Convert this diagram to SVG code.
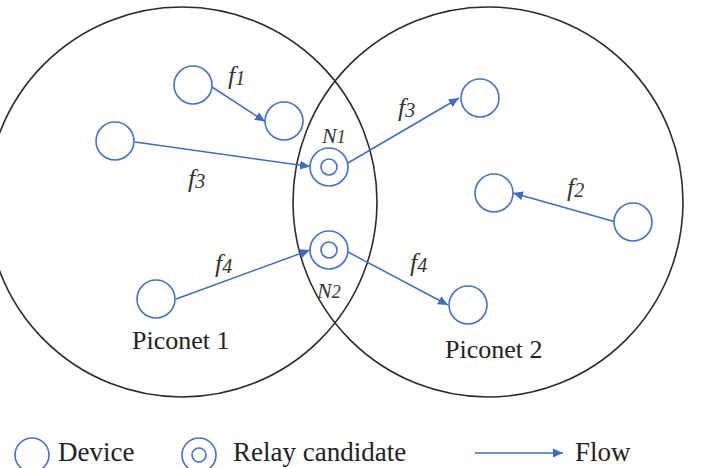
<svg xmlns="http://www.w3.org/2000/svg" width="711" height="468" viewBox="0 0 711 468">
<defs>
<marker id="ah" viewBox="0 0 10 10" refX="10" refY="5" markerWidth="10" markerHeight="10" markerUnits="userSpaceOnUse" orient="auto">
<path d="M0,0.5 L10,5 L0,9.5 Z" fill="#3F6EC0"/>
</marker>
<style>
.net{fill:none;stroke:#2b2b2b;stroke-width:1.6}
.dev{fill:#fff;stroke:#4472C4;stroke-width:1.6}
.flow{fill:none;stroke:#3F6EC0;stroke-width:1.5;marker-end:url(#ah)}
.lbl{fill:#222}
.it{font-style:italic;fill:#333}
</style>
</defs>
<rect width="711" height="468" fill="#fff"/>
<g id="piconets">
<circle id="piconet1" class="net" cx="182" cy="202" r="195"/>
<circle id="piconet2" class="net" cx="488" cy="202" r="195"/>
</g>
<g id="connectors">
<line class="flow" x1="212" y1="87" x2="265" y2="121.5"/>
<line class="flow" x1="135" y1="142" x2="310" y2="166.5"/>
<line class="flow" x1="348" y1="163" x2="459" y2="98"/>
<line class="flow" x1="176" y1="299" x2="310" y2="250"/>
<line class="flow" x1="348" y1="252" x2="448" y2="305"/>
<line class="flow" x1="614" y1="221.5" x2="513" y2="193"/>
<line class="flow" x1="475" y1="453" x2="563" y2="453"/>
</g>
<g id="dev-a"><circle class="dev" cx="193" cy="85" r="19"/></g>
<g id="dev-b"><circle class="dev" cx="284" cy="121" r="19"/></g>
<g id="dev-c"><circle class="dev" cx="115" cy="141" r="19"/></g>
<g id="relay-n1"><circle class="dev" cx="329" cy="167" r="19"/><circle class="dev" cx="329" cy="167" r="8"/></g>
<g id="relay-n2"><circle class="dev" cx="329" cy="250" r="19"/><circle class="dev" cx="329" cy="250" r="8"/></g>
<g id="dev-d"><circle class="dev" cx="480" cy="98" r="19"/></g>
<g id="dev-e"><circle class="dev" cx="494" cy="193" r="19"/></g>
<g id="dev-f"><circle class="dev" cx="633" cy="222" r="19"/></g>
<g id="dev-g"><circle class="dev" cx="156" cy="299" r="19"/></g>
<g id="dev-h"><circle class="dev" cx="468" cy="305" r="19"/></g>
<g id="labels" font-family="Liberation Serif, DejaVu Serif, serif">
<text class="it" x="228" y="84" font-size="26">f<tspan font-size="20" dy="1">1</tspan></text>
<text class="it" x="398" y="116" font-size="26">f<tspan font-size="20" dy="1">3</tspan></text>
<text class="it" x="188" y="187" font-size="26">f<tspan font-size="20" dy="1">3</tspan></text>
<text class="it" x="567" y="196" font-size="26">f<tspan font-size="20" dy="1">2</tspan></text>
<text class="it" x="215" y="272" font-size="26">f<tspan font-size="20" dy="1">4</tspan></text>
<text class="it" x="410" y="271" font-size="26">f<tspan font-size="20" dy="1">4</tspan></text>
<text class="it" x="322" y="143" font-size="22">N<tspan font-size="18">1</tspan></text>
<text class="it" x="317" y="298" font-size="22">N<tspan font-size="18">2</tspan></text>
<text class="lbl" x="132" y="349" font-size="26">Piconet 1</text>
<text class="lbl" x="445" y="358" font-size="26">Piconet 2</text>
</g>
<g id="legend" font-family="Liberation Serif, DejaVu Serif, serif">
<circle class="dev" cx="32" cy="455" r="17"/>
<text class="lbl" x="58" y="461" font-size="27">Device</text>
<circle class="dev" cx="199" cy="455" r="17"/>
<circle class="dev" cx="199" cy="455" r="7"/>
<text class="lbl" x="233" y="461" font-size="27">Relay candidate</text>
<text class="lbl" x="575" y="461" font-size="27">Flow</text>
</g>
</svg>
